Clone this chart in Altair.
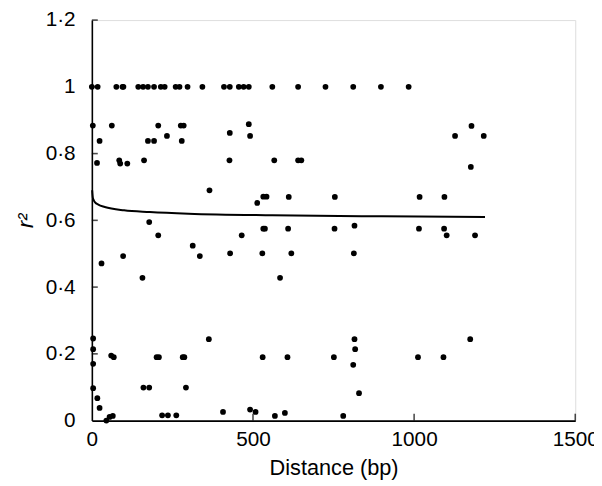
import altair as alt
import pandas as pd

# scatter points: distance (bp) and r^2
distance = [
    0, 18, 76, 95, 98, 144, 159, 174, 193, 214, 226, 260, 272, 297, 343, 410, 428, 456, 471, 487, 560, 640, 725, 811, 897, 983,
    3, 62, 206, 276, 285, 487, 1178,
    233, 428, 491, 24, 174, 193, 279, 1127, 1216, 1176,
    16, 85, 88, 110, 162, 427, 566, 640, 650,
    365, 513, 532, 542,
    178, 206, 30, 97, 157, 313, 335, 429, 465, 529, 532, 537,
    611, 754, 1017, 1094,
    609, 753, 815, 1015, 1093, 1101, 1189,
    619, 813, 584,
    4, 4, 4, 60, 68, 201, 208, 282, 287, 363, 530, 607, 751, 815, 817, 811, 829, 1012, 1091, 1174,
    4, 17, 24, 45, 55, 65, 160, 178, 292, 218, 236, 262, 407, 491, 508, 568, 599, 780,
]
r2 = [
    1, 1, 1, 1, 1, 1, 1, 1, 1, 1, 1, 1, 1, 1, 1, 1, 1, 1, 1, 1, 1, 1, 1, 1, 1, 1,
    0.884, 0.884, 0.884, 0.884, 0.884, 0.888, 0.883,
    0.853, 0.862, 0.853, 0.838, 0.838, 0.838, 0.838, 0.853, 0.853, 0.76,
    0.772, 0.78, 0.77, 0.77, 0.78, 0.78, 0.78, 0.78, 0.78,
    0.69, 0.652, 0.671, 0.671,
    0.595, 0.555, 0.471, 0.493, 0.428, 0.524, 0.493, 0.501, 0.555, 0.501, 0.575, 0.575,
    0.67, 0.67, 0.67, 0.67,
    0.575, 0.575, 0.584, 0.575, 0.575, 0.555, 0.555,
    0.501, 0.501, 0.428,
    0.246, 0.214, 0.17, 0.195, 0.19, 0.19, 0.19, 0.19, 0.19, 0.244, 0.19, 0.19, 0.19, 0.244, 0.214, 0.167, 0.082, 0.19, 0.19, 0.244,
    0.097, 0.067, 0.038, 0.0, 0.011, 0.014, 0.099, 0.099, 0.099, 0.016, 0.016, 0.016, 0.026, 0.033, 0.026, 0.014, 0.023, 0.014,
]

# fitted trend curve
curve_x = [1, 3, 6, 10, 20, 40, 100, 180, 300, 560, 900, 1220]
curve_y = [0.69, 0.668, 0.66, 0.654, 0.647, 0.640, 0.630, 0.625, 0.620, 0.615, 0.612, 0.610]

# axis tick values
y_ticks = [0, 0.2, 0.4, 0.6, 0.8, 1.0, 1.2]
x_ticks = [0, 500, 1000, 1500]

pts = pd.DataFrame({"distance": distance, "r2": r2})
crv = pd.DataFrame({"distance": curve_x, "r2": curve_y})
yt = pd.DataFrame({"v": y_ticks[1:]})
xt = pd.DataFrame({"v": x_ticks[1:]})

FONT = "Liberation Sans"

xscale = alt.Scale(domain=[0, 1500], nice=False, zero=True)
yscale = alt.Scale(domain=[0, 1.2], nice=False, zero=True)

xaxis = alt.Axis(
    values=x_ticks, title="Distance (bp)", format="d", ticks=False, tickSize=0, grid=False,
    labelPadding=8, titlePadding=9, labelFontSize=21, titleFontSize=22,
    labelFont=FONT, titleFont=FONT, titleFontWeight="normal",
    labelColor="black", titleColor="black", domainColor="black", domainWidth=1.6,
    labelFlush=False,
)
yaxis = alt.Axis(
    values=y_ticks, title="r²", ticks=False, tickSize=0, grid=False,
    format="~g", labelExpr="replace(datum.label, '.', '·')",
    labelPadding=17, titlePadding=8, labelFontSize=21, titleFontSize=22,
    labelFont=FONT, titleFont=FONT, titleFontWeight="normal", titleFontStyle="italic",
    labelColor="black", titleColor="black", domainColor="black", domainWidth=1.6,
    labelFlush=False,
)

points = alt.Chart(pts).mark_circle(size=34, color="black", opacity=1).encode(
    x=alt.X("distance:Q", scale=xscale, axis=xaxis),
    y=alt.Y("r2:Q", scale=yscale, axis=yaxis),
)

line = alt.Chart(crv).mark_line(color="black", strokeWidth=2, interpolate="monotone").encode(
    x=alt.X("distance:Q", scale=xscale),
    y=alt.Y("r2:Q", scale=yscale),
)

ytick_marks = alt.Chart(yt).mark_tick(
    orient="horizontal", size=6, thickness=1.6, color="black", xOffset=3
).encode(
    x=alt.datum(0, scale=xscale),
    y=alt.Y("v:Q", scale=yscale),
)

xtick_marks = alt.Chart(xt).mark_tick(
    orient="vertical", size=7, thickness=1.6, color="black", yOffset=-3.5
).encode(
    x=alt.X("v:Q", scale=xscale),
    y=alt.datum(0, scale=yscale),
)

chart = alt.layer(ytick_marks, xtick_marks, line, points).properties(
    width=490, height=406,
    autosize=alt.AutoSizeParams(type="none"),
    padding={"left": 85, "top": 9, "right": 19, "bottom": 60},
).configure_view(stroke=None).configure(background="white")

chart.save("out.html", embed_options={"renderer": "svg", "actions": False})
